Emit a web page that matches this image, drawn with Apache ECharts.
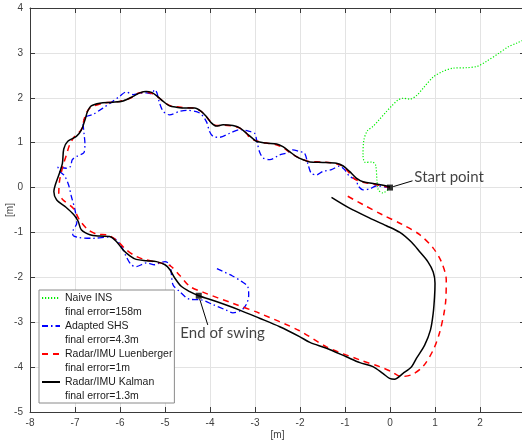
<!DOCTYPE html>
<html>
<head>
<meta charset="utf-8">
<script src="https://cdn.jsdelivr.net/npm/echarts@6/dist/echarts.min.js"></script>
<style>html,body{margin:0;padding:0;background:#fff;}#c{width:522px;height:443px;}</style>
</head>
<body>
<div id="c"></div>
<script>
// ---- data (metres) ----
const xTicks = [-8, -7, -6, -5, -4, -3, -2, -1, 0, 1, 2, 3];
const yTicks = [-5, -4, -3, -2, -1, 0, 1, 2, 3, 4];

const seriesNames = ['Naive INS', 'Adapted SHS', 'Radar/IMU Luenberger', 'Radar/IMU Kalman'];
const finalErrors = ['final error=158m', 'final error=4.3m', 'final error=1m', 'final error=1.3m'];

const naiveINS = [[0,0],[-0.16,-0.12],[-0.26,-0.05],[-0.29,0.17],[-0.32,0.5],[-0.4,0.57],[-0.55,0.56],[-0.6,0.72],[-0.58,1.06],[-0.5,1.27],[-0.38,1.36],[-0.25,1.5],[-0.1,1.67],[0.05,1.83],[0.18,1.95],[0.29,1.99],[0.44,1.97],[0.59,2.05],[0.75,2.23],[0.96,2.46],[1.18,2.59],[1.4,2.66],[1.7,2.67],[1.94,2.70],[2.14,2.81],[2.4,2.98],[2.62,3.13],[2.82,3.22],[3.0,3.3]];

const adaptedSHS = [[0,0],[-0.08,0.01],[-0.3,0.04],[-0.45,-0.03],[-0.6,-0.05],[-0.71,0.04],[-0.75,0.17],[-0.9,0.25],[-1.01,0.40],[-1.12,0.48],[-1.3,0.40],[-1.49,0.36],[-1.64,0.28],[-1.75,0.32],[-1.82,0.51],[-1.9,0.77],[-2.01,0.80],[-2.16,0.84],[-2.3,0.77],[-2.45,0.73],[-2.67,0.62],[-2.82,0.66],[-2.9,0.80],[-2.95,1.0],[-3.01,1.21],[-3.12,1.25],[-3.34,1.29],[-3.56,1.21],[-3.79,1.12],[-3.93,1.14],[-4.01,1.25],[-4.08,1.47],[-4.23,1.66],[-4.52,1.72],[-4.67,1.70],[-4.9,1.62],[-5.04,1.70],[-5.12,1.88],[-5.18,2.11],[-5.23,2.18],[-5.3,2.09],[-5.41,2.11],[-5.56,2.10],[-5.71,2.07],[-5.86,2.13],[-6.01,2.03],[-6.16,1.92],[-6.38,1.77],[-6.6,1.63],[-6.75,1.58],[-6.82,1.44],[-6.8,1.21],[-6.78,0.99],[-6.8,0.78],[-6.95,0.70],[-7.06,0.62],[-7.1,0.47],[-7.19,0.43],[-7.38,0.46],[-7.34,0.36],[-7.23,0.26],[-7.14,0.05],[-7.08,-0.2],[-7.0,-0.5],[-6.96,-0.79],[-7.04,-0.95],[-7.05,-1.05],[-6.93,-1.11],[-6.6,-1.13],[-6.23,-1.10],[-6.08,-1.17],[-5.97,-1.31],[-5.86,-1.54],[-5.75,-1.72],[-5.64,-1.76],[-5.41,-1.68],[-5.23,-1.72],[-5.12,-1.68],[-5.0,-1.65],[-4.89,-1.72],[-4.86,-1.91],[-4.82,-2.17],[-4.67,-2.32],[-4.45,-2.49],[-4.2,-2.50],[-3.93,-2.61],[-3.64,-2.73],[-3.49,-2.79],[-3.3,-2.73],[-3.19,-2.60],[-3.14,-2.40],[-3.16,-2.21],[-3.3,-2.09],[-3.5,-1.97],[-3.86,-1.80]];

const luenberger = [[0,0],[-0.3,0.06],[-0.6,0.12],[-0.8,0.2],[-0.95,0.38],[-1.1,0.5],[-1.3,0.55],[-1.5,0.57],[-1.8,0.58],[-1.95,0.63],[-2.1,0.7],[-2.25,0.8],[-2.4,0.9],[-2.55,0.96],[-2.8,1.0],[-3.0,1.05],[-3.12,1.12],[-3.2,1.22],[-3.35,1.33],[-3.5,1.37],[-3.7,1.39],[-3.85,1.38],[-3.97,1.45],[-4.08,1.58],[-4.2,1.7],[-4.35,1.77],[-4.55,1.78],[-4.75,1.8],[-4.9,1.83],[-5.05,1.93],[-5.2,2.05],[-5.3,2.1],[-5.45,2.12],[-5.6,2.1],[-5.75,2.0],[-6.0,1.92],[-6.38,1.88],[-6.67,1.77],[-6.78,1.58],[-6.86,1.29],[-7.01,1.14],[-7.12,0.95],[-7.19,0.73],[-7.27,0.47],[-7.34,0.17],[-7.36,-0.12],[-7.27,-0.27],[-7.04,-0.46],[-6.9,-0.72],[-6.71,-0.94],[-6.5,-1.04],[-6.3,-1.05],[-6.08,-1.17],[-5.88,-1.37],[-5.7,-1.5],[-5.5,-1.59],[-5.15,-1.67],[-4.89,-1.74],[-4.67,-1.96],[-4.45,-2.2],[-4.16,-2.33],[-3.49,-2.58],[-2.9,-2.80],[-2.01,-3.19],[-1.41,-3.55],[-0.67,-3.84],[-0.23,-3.99],[0.03,-4.1],[0.25,-4.21],[0.48,-4.17],[0.73,-3.99],[0.96,-3.62],[1.10,-3.24],[1.2,-2.8],[1.24,-2.5],[1.25,-2.06],[1.14,-1.65],[0.96,-1.35],[0.66,-1.05],[0.29,-0.83],[-0.16,-0.61],[-0.6,-0.38],[-1.0,-0.16]];

const kalman = [[0,0.02],[-0.3,0.08],[-0.6,0.13],[-0.75,0.21],[-0.9,0.36],[-1.04,0.48],[-1.19,0.54],[-1.49,0.56],[-1.78,0.57],[-1.93,0.62],[-2.08,0.69],[-2.23,0.8],[-2.38,0.91],[-2.52,0.97],[-2.75,0.99],[-2.97,1.03],[-3.06,1.1],[-3.19,1.21],[-3.34,1.33],[-3.49,1.38],[-3.71,1.40],[-3.86,1.37],[-3.97,1.44],[-4.08,1.58],[-4.19,1.69],[-4.34,1.77],[-4.52,1.77],[-4.75,1.79],[-4.9,1.82],[-5.04,1.92],[-5.19,2.05],[-5.3,2.12],[-5.42,2.14],[-5.56,2.11],[-5.71,2.03],[-5.93,1.93],[-6.16,1.90],[-6.45,1.88],[-6.64,1.82],[-6.72,1.70],[-6.78,1.50],[-6.86,1.28],[-6.97,1.14],[-7.16,1.03],[-7.25,0.86],[-7.28,0.54],[-7.36,0.28],[-7.44,0.05],[-7.47,-0.09],[-7.41,-0.27],[-7.2,-0.44],[-7.03,-0.6],[-6.93,-0.75],[-6.86,-0.94],[-6.67,-1.05],[-6.45,-1.08],[-6.23,-1.09],[-6.08,-1.2],[-5.93,-1.39],[-5.78,-1.52],[-5.64,-1.6],[-5.41,-1.63],[-5.19,-1.65],[-5.0,-1.72],[-4.89,-1.83],[-4.78,-2.02],[-4.64,-2.2],[-4.45,-2.32],[-4.25,-2.41],[-3.86,-2.54],[-3.34,-2.73],[-2.9,-2.91],[-2.45,-3.10],[-2.01,-3.32],[-1.78,-3.45],[-1.41,-3.58],[-0.97,-3.77],[-0.67,-3.9],[-0.38,-3.99],[-0.16,-4.14],[-0.01,-4.25],[0.1,-4.27],[0.29,-4.14],[0.48,-3.99],[0.59,-3.8],[0.77,-3.51],[0.9,-3.17],[0.96,-2.8],[0.99,-2.43],[1.0,-2.13],[0.96,-1.88],[0.84,-1.65],[0.66,-1.43],[0.48,-1.22],[0.22,-1.0],[-0.08,-0.85],[-0.45,-0.68],[-0.9,-0.46],[-1.3,-0.22]];

const keyPoints = [[0, 0], [-4.25, -2.41]];
const annotations = [[0.53, 0.24, 'Start point'], [-4.67, -3.24, 'End of swing']];
const arrows = [[[0.5, 0.15], [0.07, 0.02]], [[-4.05, -3.06], [-4.23, -2.48]]];

// ---- chart ----
const chart = echarts.init(document.getElementById('c'), null, {renderer: 'canvas'});
const axisColor = '#3a3a3a';
const labelFont = {fontFamily: 'Liberation Sans, Arial, sans-serif', fontSize: 10, color: '#404040'};

function mainX(pos, show) {
  return {
    type: 'value', position: pos, min: xTicks[0], max: xTicks[xTicks.length - 1], interval: 1,
    axisLine: {show: true, onZero: false, lineStyle: {color: axisColor, width: 1}},
    axisTick: {show: true, inside: true, length: 5, lineStyle: {color: axisColor}},
    axisLabel: Object.assign({show: show, margin: 6}, labelFont),
    splitLine: {show: show, lineStyle: {color: '#e3e3e3', width: 1}},
    name: show ? '[m]' : '', nameLocation: 'middle', nameGap: 18, nameMoveOverlap: false,
    nameTextStyle: labelFont
  };
}
function mainY(pos, show) {
  return {
    type: 'value', position: pos, min: yTicks[0], max: yTicks[yTicks.length - 1], interval: 1,
    axisLine: {show: true, onZero: false, lineStyle: {color: axisColor, width: 1}},
    axisTick: {show: true, inside: true, length: 5, lineStyle: {color: axisColor}},
    axisLabel: Object.assign({show: show, margin: 7}, labelFont),
    splitLine: {show: show, lineStyle: {color: '#e3e3e3', width: 1}},
    name: show ? '[m]' : '', nameLocation: 'middle', nameGap: 15, nameRotate: 90, nameMoveOverlap: false,
    nameTextStyle: labelFont
  };
}

const styles = [
  {color: '#00ee00', width: 1.2, type: [1.2, 1.8]},
  {color: '#0000ff', width: 1.3, type: [6, 3, 1.5, 3]},
  {color: '#ff0000', width: 1.5, type: [6, 5]},
  {color: '#000000', width: 1.5, type: 'solid'}
];
const paths = [naiveINS, adaptedSHS, luenberger, kalman];

const series = [];
paths.forEach((p, i) => {
  series.push({
    name: seriesNames[i], type: 'line', data: p, symbol: 'none', smooth: 0.3,
    lineStyle: styles[i], itemStyle: {color: styles[i].color}, z: 2 + i, silent: true
  });
});
finalErrors.forEach((n) => {
  series.push({name: n, type: 'line', data: [], symbol: 'none',
    lineStyle: {color: 'rgba(0,0,0,0)', width: 0}, itemStyle: {color: 'rgba(0,0,0,0)'}});
});
series.push({
  name: 'points', type: 'scatter', data: keyPoints, symbol: 'rect', symbolSize: 6,
  itemStyle: {color: '#000'}, z: 10, silent: true
});
series.push({
  name: 'notes', type: 'scatter', data: annotations, symbolSize: 1,
  itemStyle: {color: 'rgba(0,0,0,0)'}, z: 11, silent: true,
  label: {show: true, position: 'right', distance: 0, formatter: (p) => p.value[2],
    fontFamily: 'Lato, Open Sans, sans-serif', fontSize: 15, color: '#111'},
  markLine: {
    silent: true, symbol: ['none', 'arrow'], symbolSize: [0, 9],
    lineStyle: {color: '#000', width: 1, type: 'solid'}, label: {show: false},
    data: arrows.map(a => [{coord: a[0]}, {coord: a[1]}])
  }
});

const legendData = [];
seriesNames.forEach((n, i) => {
  legendData.push({name: n});
  legendData.push({name: finalErrors[i]});
});

chart.setOption({
  animation: false,
  backgroundColor: '#fff',
  grid: {left: 30, top: 8, width: 495, height: 404, containLabel: false, outerBoundsMode: 'none'},
  xAxis: [mainX('bottom', true), mainX('top', false)],
  yAxis: [mainY('left', true), mainY('right', false)],
  legend: {
    orient: 'vertical', left: 39, top: 290, padding: [1, 2, 0, 2],
    itemWidth: 18, itemHeight: 14, itemGap: 0, selectedMode: false,
    itemStyle: {opacity: 0},
    backgroundColor: '#fff', borderColor: '#8a8a8a', borderWidth: 1,
    textStyle: {fontFamily: 'Liberation Sans, Arial, sans-serif', fontSize: 10.5, lineHeight: 14, color: '#1a1a1a'},
    data: legendData
  },
  series: series
});
</script>
</body>
</html>
